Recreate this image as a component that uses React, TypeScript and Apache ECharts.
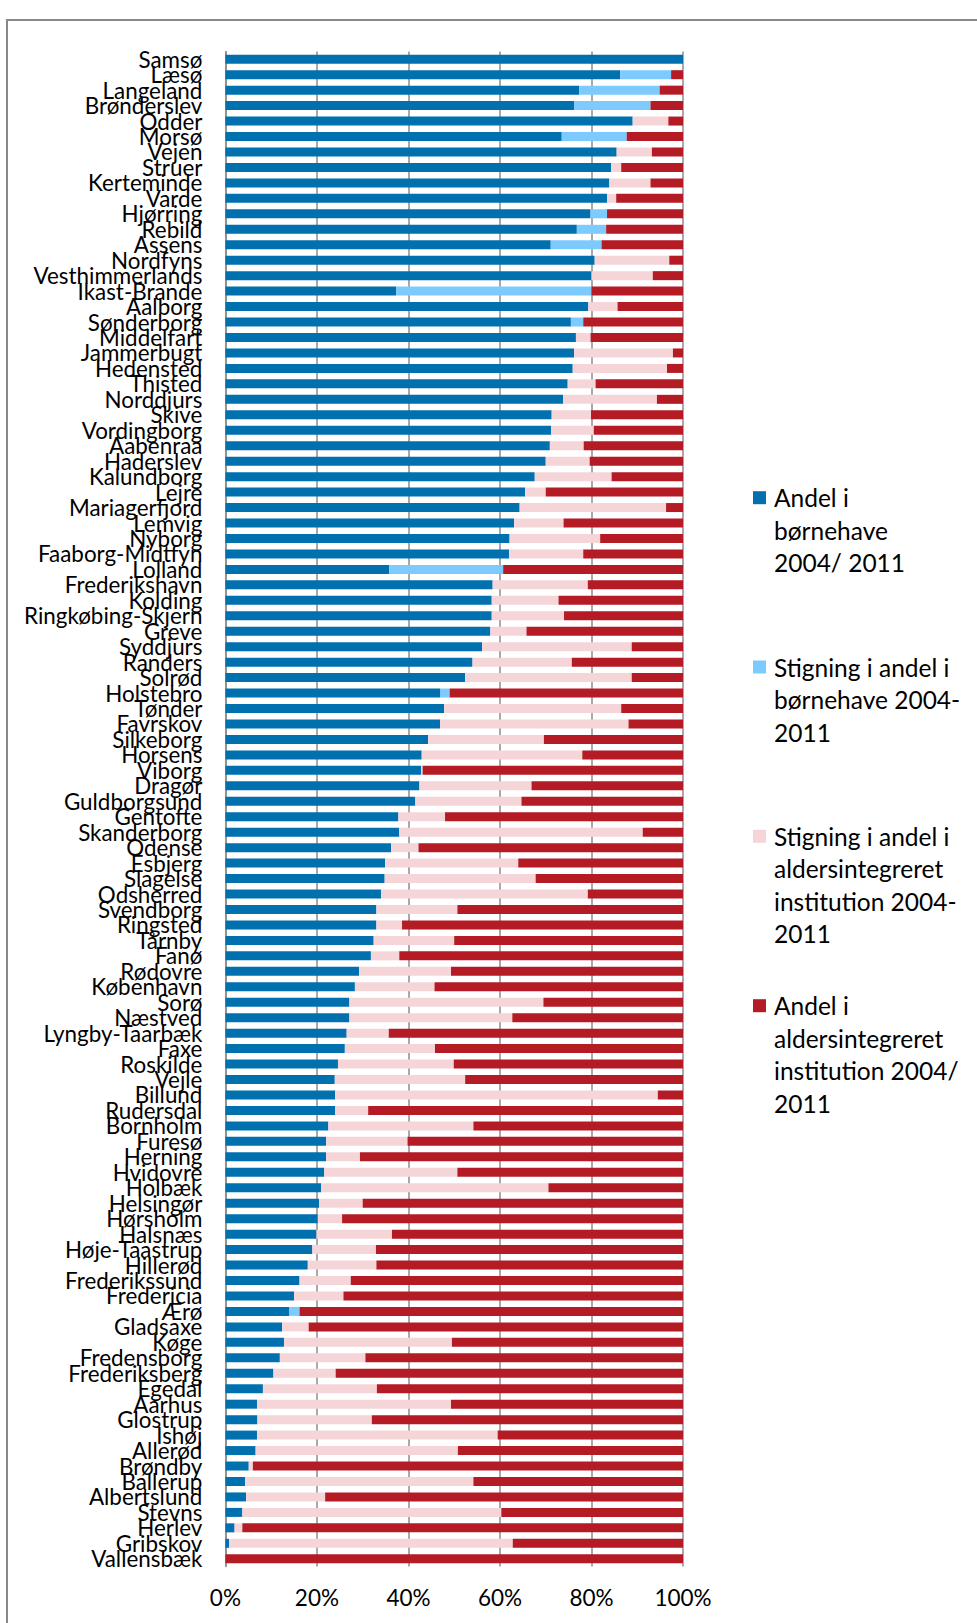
import React, { useEffect, useRef } from "react";
import * as echarts from "echarts";

// Municipalities (top to bottom)
const municipalities: string[] = [
  "Samsø", "Læsø", "Langeland", "Brønderslev", "Odder", "Morsø", "Vejen", "Struer", "Kerteminde", "Varde",
  "Hjørring", "Rebild", "Assens", "Nordfyns", "Vesthimmerlands", "Ikast-Brande", "Aalborg", "Sønderborg", "Middelfart", "Jammerbugt",
  "Hedensted", "Thisted", "Norddjurs", "Skive", "Vordingborg", "Aabenraa", "Haderslev", "Kalundborg", "Lejre", "Mariagerfjord",
  "Lemvig", "Nyborg", "Faaborg-Midtfyn", "Lolland", "Frederikshavn", "Kolding", "Ringkøbing-Skjern", "Greve", "Syddjurs", "Randers",
  "Solrød", "Holstebro", "Tønder", "Favrskov", "Silkeborg", "Horsens", "Viborg", "Dragør", "Guldborgsund", "Gentofte",
  "Skanderborg", "Odense", "Esbjerg", "Slagelse", "Odsherred", "Svendborg", "Ringsted", "Tårnby", "Fanø", "Rødovre",
  "København", "Sorø", "Næstved", "Lyngby-Taarbæk", "Faxe", "Roskilde", "Vejle", "Billund", "Rudersdal", "Bornholm",
  "Furesø", "Herning", "Hvidovre", "Holbæk", "Helsingør", "Hørsholm", "Halsnæs", "Høje-Taastrup", "Hillerød", "Frederikssund",
  "Fredericia", "Ærø", "Gladsaxe", "Køge", "Fredensborg", "Frederiksberg", "Egedal", "Aarhus", "Glostrup", "Ishøj",
  "Allerød", "Brøndby", "Ballerup", "Albertslund", "Stevns", "Herlev", "Gribskov", "Vallensbæk",
];

// Andel i børnehave 2004/ 2011
const andelBoernehave: number[] = [
  100, 86.3, 77.3, 76.2, 89.0, 73.5, 85.5, 84.3, 83.9, 83.4,
  79.8, 76.8, 71.1, 80.7, 80.0, 37.3, 79.3, 75.5, 76.6, 76.2,
  75.9, 74.8, 73.8, 71.3, 71.2, 70.9, 70.0, 67.6, 65.5, 64.3,
  63.1, 62.1, 62.0, 35.8, 58.4, 58.2, 58.2, 57.9, 56.1, 54.0,
  52.4, 47.0, 47.8, 46.9, 44.3, 42.9, 42.8, 42.4, 41.5, 37.8,
  38.0, 36.2, 34.9, 34.8, 34.0, 33.0, 33.0, 32.4, 31.8, 29.2,
  28.3, 27.1, 27.1, 26.5, 26.1, 24.6, 23.9, 24.0, 24.0, 22.5,
  22.0, 22.0, 21.6, 20.9, 20.5, 20.2, 19.9, 19.0, 18.0, 16.2,
  15.0, 13.9, 12.4, 12.8, 11.9, 10.5, 8.2, 6.9, 7.0, 6.9,
  6.6, 5.1, 4.3, 4.5, 3.7, 2.0, 0.8, 0,
];

// Stigning i andel i børnehave 2004-2011
const stigningBoernehave: number[] = [
  0, 11.1, 17.6, 16.7, 0, 14.2, 0, 0, 0, 0,
  3.6, 6.4, 11.1, 0, 0, 42.7, 0, 2.7, 0, 0,
  0, 0, 0, 0, 0, 0, 0, 0, 0, 0,
  0, 0, 0, 24.9, 0, 0, 0, 0, 0, 0,
  0, 2.0, 0, 0, 0, 0, 0, 0, 0, 0,
  0, 0, 0, 0, 0, 0, 0, 0, 0, 0,
  0, 0, 0, 0, 0, 0, 0, 0, 0, 0,
  0, 0, 0, 0, 0, 0, 0, 0, 0, 0,
  0, 2.3, 0, 0, 0, 0, 0, 0, 0, 0,
  0, 0, 0, 0, 0, 0, 0, 0,
];

// Stigning i andel i aldersintegreret institution 2004-2011
const stigningAldersint: number[] = [
  0, 0, 0, 0, 7.8, 0, 7.7, 2.2, 9.0, 2.0,
  0, 0, 0, 16.3, 13.4, 0, 6.4, 0, 3.2, 21.6,
  20.6, 6.1, 20.5, 8.6, 9.3, 7.4, 9.6, 16.8, 4.5, 32.0,
  10.8, 19.8, 16.2, 0, 20.8, 14.6, 15.8, 7.9, 32.7, 21.7,
  36.4, 0, 38.7, 41.2, 25.3, 35.1, 0.3, 24.5, 23.2, 10.2,
  53.2, 6.0, 29.1, 33.0, 45.2, 17.7, 5.6, 17.6, 6.2, 20.1,
  17.4, 42.4, 35.6, 9.2, 19.7, 25.3, 28.5, 70.5, 7.2, 31.7,
  17.8, 7.4, 29.1, 49.7, 9.5, 5.3, 16.5, 13.9, 15.0, 11.2,
  10.8, 0, 5.8, 36.7, 18.7, 13.6, 24.9, 42.4, 25.0, 52.6,
  44.2, 0.9, 49.9, 17.3, 56.6, 1.7, 62.0, 0,
];

// Andel i aldersintegreret institution 2004/ 2011
const andelAldersint: number[] = [
  0, 2.6, 5.1, 7.1, 3.2, 12.3, 6.8, 13.5, 7.1, 14.6,
  16.6, 16.8, 17.8, 3.0, 6.6, 20.0, 14.3, 21.8, 20.2, 2.2,
  3.5, 19.1, 5.7, 20.1, 19.5, 21.7, 20.4, 15.6, 30.0, 3.7,
  26.1, 18.1, 21.8, 39.3, 20.8, 27.2, 26.0, 34.2, 11.2, 24.3,
  11.2, 51.0, 13.5, 11.9, 30.4, 22.0, 56.9, 33.1, 35.3, 52.0,
  8.8, 57.8, 36.0, 32.2, 20.8, 49.3, 61.4, 50.0, 62.0, 50.7,
  54.3, 30.5, 37.3, 64.3, 54.2, 50.1, 47.6, 5.5, 68.8, 45.8,
  60.2, 70.6, 49.3, 29.4, 70.0, 74.5, 63.6, 67.1, 67.0, 72.6,
  74.2, 83.8, 81.8, 50.5, 69.4, 75.9, 66.9, 50.7, 68.0, 40.5,
  49.2, 94.0, 45.8, 78.2, 39.7, 96.3, 37.2, 100,
];

const seriesNames: string[] = [
  "Andel i\nbørnehave\n2004/ 2011",
  "Stigning i andel i\nbørnehave 2004-\n2011",
  "Stigning i andel i\naldersintegreret\ninstitution 2004-\n2011",
  "Andel i\naldersintegreret\ninstitution 2004/\n2011",
];

const seriesColors: string[] = ["#0070AF", "#7DCBFE", "#F6D5D8", "#B41B24"];

const xTicks: number[] = [0, 20, 40, 60, 80, 100];

export default function App() {
  const ref = useRef<HTMLDivElement>(null);

  useEffect(() => {
    if (!ref.current) return;
    const chart = echarts.init(ref.current, undefined, { renderer: "svg" });
    const seriesData = [andelBoernehave, stigningBoernehave, stigningAldersint, andelAldersint];

    const legendCenters = [497.7, 667, 836.3, 1005.7];
    const legendLineH = 32.5;
    const legendGraphics: any[] = [];
    seriesNames.forEach((name, i) => {
      legendGraphics.push({
        type: "rect",
        shape: { x: 753, y: legendCenters[i] - 6.5, width: 13, height: 13 },
        style: { fill: seriesColors[i] },
        silent: true,
      });
      legendGraphics.push({
        type: "text",
        x: 774,
        y: legendCenters[i] - legendLineH / 2,
        style: {
          text: name,
          fontFamily: "Lato",
          fontSize: 24.5,
          lineHeight: legendLineH,
          fill: "#000",
          align: "left",
          verticalAlign: "top",
        },
        silent: true,
      });
    });

    chart.setOption({
      animation: false,
      backgroundColor: "#fff",
      grid: { left: 225.4, right: 294, top: 51.5, bottom: 56.5, containLabel: false },
      xAxis: {
        type: "value",
        min: xTicks[0],
        max: xTicks[xTicks.length - 1],
        interval: xTicks[1] - xTicks[0],
        axisLabel: {
          formatter: "{value}%",
          fontFamily: "Lato",
          fontSize: 22.5,
          color: "#000",
          margin: 19,
        },
        axisLine: { show: false },
        axisTick: { show: false },
        splitLine: { show: true, lineStyle: { color: "#8c8c8c", width: 1.5 } },
      },
      yAxis: {
        type: "category",
        data: municipalities,
        inverse: true,
        axisLine: { show: true, lineStyle: { color: "#8c8c8c", width: 1.5 } },
        axisTick: { show: false },
        axisLabel: {
          interval: 0,
          fontFamily: "Lato",
          fontSize: 22.4,
          lineHeight: 18,
          color: "#000",
          margin: 23,
          padding: [0, 0, 3, 0],
        },
      },
      legend: { show: false },
      series: seriesData.map((d, i) => ({
        name: seriesNames[i],
        type: "bar",
        stack: "total",
        barWidth: 9,
        itemStyle: { color: seriesColors[i] },
        data: d,
      })),
      graphic: [
        {
          type: "polyline",
          shape: { points: [[7, 1623], [7, 20], [977, 20]] },
          style: { stroke: "#888", lineWidth: 2, fill: "none" },
          silent: true,
        },
        ...legendGraphics,
      ],
    });
    return () => chart.dispose();
  }, []);

  return (
    <div
      ref={ref}
      style={{ position: "absolute", left: 0, top: 0, width: 977, height: 1623 }}
    />
  );
}
